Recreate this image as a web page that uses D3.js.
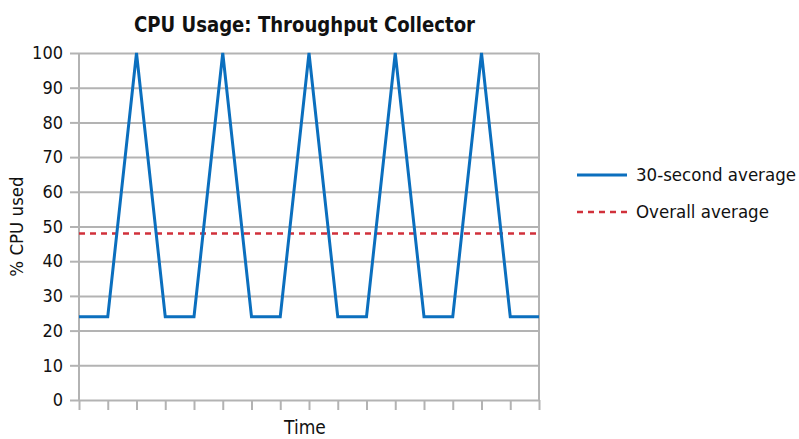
<!DOCTYPE html>
<html><head><meta charset="utf-8">
<script src="https://cdn.jsdelivr.net/npm/d3@7"></script>
<style>body{margin:0;background:#fff}svg{display:block}</style>
</head><body>
<script>
const title = "CPU Usage: Throughput Collector";
const xSteps = d3.range(0, 17);
const cpu30s = [24,24,100,24,24,100,24,24,100,24,24,100,24,24,100,24,24];
const overallAvg = 48;
const yTicks = [0,10,20,30,40,50,60,70,80,90,100];
const seriesNames = ["30-second average", "Overall average"];

const W = 799, H = 439;
const m = {left: 79, right: 260, top: 53, bottom: 39};
const font = "'DejaVu Sans Condensed', 'Liberation Sans Narrow', sans-serif";
const svg = d3.select("body").append("svg").attr("width", W).attr("height", H);

const x = d3.scaleLinear().domain([0, 16]).range([m.left, W - m.right]);
const y = d3.scaleLinear().domain([0, 100]).range([H - m.bottom, m.top]);
const grid = "#b3b3b3";

// gridlines + y axis ticks
const yAxis = svg.append("g").attr("transform", `translate(${m.left},0)`)
  .call(d3.axisLeft(y).tickValues(yTicks).tickSize(9).tickPadding(7));
yAxis.select(".domain").remove();
yAxis.selectAll("line").attr("stroke", grid).attr("stroke-width", 2);
yAxis.selectAll(".tick").append("line").attr("x1", 0).attr("x2", x(16) - m.left)
  .attr("stroke", grid).attr("stroke-width", 2);
yAxis.selectAll("text").attr("font-family", font).attr("font-size", 18).attr("fill", "#111");

// x axis ticks
const xAxis = svg.append("g").attr("transform", `translate(0,${y(0)})`)
  .call(d3.axisBottom(x).tickValues(xSteps).tickSize(10).tickFormat(""));
xAxis.select(".domain").remove();
xAxis.selectAll("line").attr("stroke", grid).attr("stroke-width", 2);

// vertical borders
svg.append("line").attr("x1", x(0)).attr("x2", x(0)).attr("y1", y(100)).attr("y2", y(0))
  .attr("stroke", grid).attr("stroke-width", 2);
svg.append("line").attr("x1", x(16)).attr("x2", x(16)).attr("y1", y(100)).attr("y2", y(0))
  .attr("stroke", grid).attr("stroke-width", 2);

const blue = "#0b6fbe", red = "#d1313b";
// overall average
svg.append("line").attr("x1", x(0)).attr("x2", x(16)).attr("y1", y(overallAvg)).attr("y2", y(overallAvg))
  .attr("stroke", red).attr("stroke-width", 2.5).attr("stroke-dasharray", "6,5");
// series
svg.append("path").datum(cpu30s)
  .attr("d", d3.line().x((d, i) => x(xSteps[i])).y(d => y(d)))
  .attr("fill", "none").attr("stroke", blue).attr("stroke-width", 3).attr("stroke-linejoin", "miter");

// title
svg.append("text").attr("x", 304.5).attr("y", 32).attr("text-anchor", "middle")
  .attr("font-family", font).attr("font-weight", "bold").attr("font-size", 22)
  .attr("textLength", 341).attr("lengthAdjust", "spacingAndGlyphs")
  .attr("fill", "#111").text(title);
// axis titles
svg.append("text").attr("x", 305).attr("y", 434).attr("text-anchor", "middle")
  .attr("font-family", font).attr("font-size", 19).attr("fill", "#111").text("Time");
svg.append("text").attr("transform", `translate(23,${(y(0)+y(100))/2}) rotate(-90)`).attr("text-anchor", "middle")
  .attr("font-family", font).attr("font-size", 18.5).attr("fill", "#111").text("% CPU used");

// legend
const lg = svg.append("g");
const items = [{name: seriesNames[0], color: blue, dash: null, y: 175}, {name: seriesNames[1], color: red, dash: "6,5", y: 212}];
items.forEach(it => {
  lg.append("line").attr("x1", 577).attr("x2", 627).attr("y1", it.y).attr("y2", it.y)
    .attr("stroke", it.color).attr("stroke-width", it.dash ? 2.5 : 3).attr("stroke-dasharray", it.dash);
  lg.append("text").attr("x", 636).attr("y", it.y).attr("dy", "0.35em")
    .attr("font-family", font).attr("font-size", 18.5).attr("fill", "#111").text(it.name);
});
</script>
</body></html>
